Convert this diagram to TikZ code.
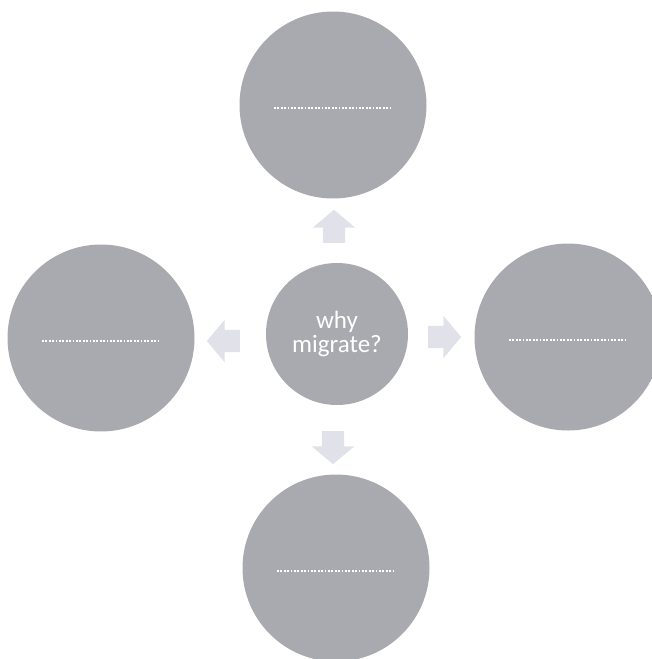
\documentclass[tikz,border=0pt]{standalone}
\usepackage{fontspec}
\setmainfont{Carlito}
\usepackage{xcolor}
\definecolor{discgray}{HTML}{A9AAAF}
\definecolor{pointergray}{HTML}{E1E1EA}
\usetikzlibrary{shapes.arrows, positioning, calc}

\begin{document}
\begin{tikzpicture}[
    x=1pt, y=-1pt,
    font=\fontsize{25}{25}\selectfont,
    disc/.style={circle, fill=discgray, draw=none, minimum size=187pt, inner sep=0pt},
    hub/.style={disc, minimum size=142pt, text=white, align=center},
    pointer/.style={single arrow, fill=pointergray, draw=none,
        minimum height=33pt, minimum width=42pt,
        single arrow head extend=10pt, single arrow tip angle=100},
    flat/.style={pointer, inner xsep=0pt, inner ysep=11pt},
    tall/.style={pointer, inner xsep=11pt, inner ysep=0pt},
    blank/.style={draw=white, line width=1.8pt, dash pattern=on 1.8pt off 1.6pt}
]
\useasboundingbox (0,0) rectangle (651,659);

% ── Centre ──
\node[hub] (hub) at (337,334) {\raisebox{-8pt}{\shortstack{why\\migrate?}}};

% ── Outer Circles ──
\node[disc] (top) at (333,105) {};
\node[disc] (left) at (101,338) {};
\node[disc] (right) at (568,337) {};
\node[disc] (bottom) at (336,568) {};

% ── Blank Lines ──
\foreach \n in {top, left, right, bottom}
    \draw[blank] ($(\n.center)+(-59,3)$) -- ($(\n.center)+(59,3)$);

% ── Arrows ──
\node[tall, shape border rotate=90] (up) at (334,231) {};
\node[flat, shape border rotate=180] (lt) at (228,341) {};
\node[flat] (rt) at (440,337) {};
\node[tall, shape border rotate=270] (dn) at (333,443) {};
\end{tikzpicture}
\end{document}
